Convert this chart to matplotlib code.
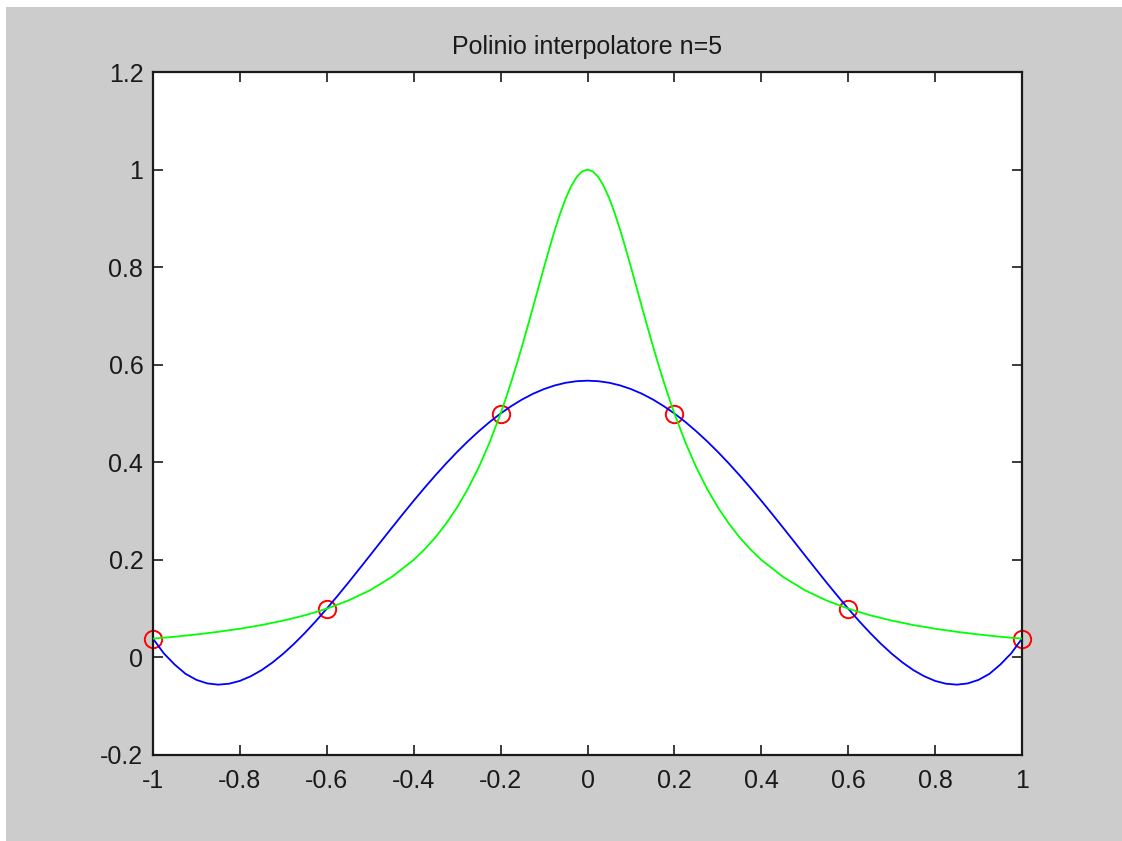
import numpy as np
import matplotlib
matplotlib.use("Agg")
import matplotlib.pyplot as plt
from matplotlib.patches import Rectangle

plt.rcParams['font.family'] = ['Liberation Sans', 'DejaVu Sans']

# interpolation nodes (n=5)
x_nodes = [-1.0, -0.6, -0.2, 0.2, 0.6, 1.0]
y_nodes = [0.0385, 0.1, 0.5, 0.5, 0.1, 0.0385]

# interpolating polynomial, sampled every 0.025
x_poly = [-1.0, -0.975, -0.95, -0.925, -0.9, -0.875, -0.85, -0.825, -0.8, -0.775,
          -0.75, -0.725, -0.7, -0.675, -0.65, -0.625, -0.6, -0.575, -0.55, -0.525,
          -0.5, -0.475, -0.45, -0.425, -0.4, -0.375, -0.35, -0.325, -0.3, -0.275,
          -0.25, -0.225, -0.2, -0.175, -0.15, -0.125, -0.1, -0.075, -0.05, -0.025,
          0.0,
          0.025, 0.05, 0.075, 0.1, 0.125, 0.15, 0.175, 0.2, 0.225, 0.25,
          0.275, 0.3, 0.325, 0.35, 0.375, 0.4, 0.425, 0.45, 0.475, 0.5,
          0.525, 0.55, 0.575, 0.6, 0.625, 0.65, 0.675, 0.7, 0.725, 0.75,
          0.775, 0.8, 0.825, 0.85, 0.875, 0.9, 0.925, 0.95, 0.975, 1.0]
y_poly = [0.0385, 0.0082, -0.0147, -0.0337, -0.0460, -0.0533, -0.0558, -0.0539, -0.0481, -0.0386,
          -0.0260, -0.0104, 0.0078, 0.0282, 0.0506, 0.0746, 0.1, 0.1265, 0.1537, 0.1816,
          0.2097, 0.2380, 0.2661, 0.2939, 0.3212, 0.3477, 0.3733, 0.3979, 0.4213, 0.4433,
          0.4638, 0.4828, 0.5, 0.5154, 0.5290, 0.5406, 0.5501, 0.5576, 0.5630, 0.5662,
          0.5673,
          0.5662, 0.5630, 0.5576, 0.5501, 0.5406, 0.5290, 0.5154, 0.5, 0.4828, 0.4638,
          0.4433, 0.4213, 0.3979, 0.3733, 0.3477, 0.3212, 0.2939, 0.2661, 0.2380, 0.2097,
          0.1816, 0.1537, 0.1265, 0.1, 0.0746, 0.0506, 0.0282, 0.0078, -0.0104, -0.0260,
          -0.0386, -0.0481, -0.0539, -0.0558, -0.0533, -0.0460, -0.0337, -0.0147, 0.0082, 0.0385]

# original function, denser sampling around the peak
x_func = [-1.0, -0.95, -0.9, -0.85, -0.8, -0.75, -0.7, -0.65, -0.6, -0.55,
          -0.5, -0.45, -0.4, -0.375, -0.35, -0.325, -0.3, -0.275, -0.25, -0.225,
          -0.2, -0.1875, -0.175, -0.1625, -0.15, -0.1375, -0.125, -0.1125, -0.1, -0.0875,
          -0.075, -0.0625, -0.05, -0.0375, -0.025, -0.0125,
          0.0,
          0.0125, 0.025, 0.0375, 0.05, 0.0625, 0.075, 0.0875, 0.1, 0.1125, 0.125,
          0.1375, 0.15, 0.1625, 0.175, 0.1875, 0.2, 0.225, 0.25, 0.275, 0.3,
          0.325, 0.35, 0.375, 0.4, 0.45, 0.5, 0.55, 0.6, 0.65, 0.7,
          0.75, 0.8, 0.85, 0.9, 0.95, 1.0]
y_func = [0.0385, 0.0424, 0.0471, 0.0525, 0.0588, 0.0664, 0.0755, 0.0865, 0.1, 0.1168,
          0.1379, 0.1652, 0.2, 0.2215, 0.2462, 0.2747, 0.3077, 0.3460, 0.3902, 0.4414,
          0.5, 0.5322, 0.5664, 0.6024, 0.64, 0.6791, 0.7191, 0.7596, 0.8, 0.8393,
          0.8767, 0.9110, 0.9412, 0.9660, 0.9846, 0.9961,
          1.0,
          0.9961, 0.9846, 0.9660, 0.9412, 0.9110, 0.8767, 0.8393, 0.8, 0.7596, 0.7191,
          0.6791, 0.64, 0.6024, 0.5664, 0.5322, 0.5, 0.4414, 0.3902, 0.3460, 0.3077,
          0.2747, 0.2462, 0.2215, 0.2, 0.1652, 0.1379, 0.1168, 0.1, 0.0865, 0.0755,
          0.0664, 0.0588, 0.0525, 0.0471, 0.0424, 0.0385]

x_ticks = [-1, -0.8, -0.6, -0.4, -0.2, 0, 0.2, 0.4, 0.6, 0.8, 1]
y_ticks = [-0.2, 0, 0.2, 0.4, 0.6, 0.8, 1, 1.2]

W, H = 1122, 841
fig = plt.figure(figsize=(W / 100, H / 100), dpi=100, facecolor="white")
fig.add_artist(Rectangle((6 / W, 0), 1, (H - 7) / H, transform=fig.transFigure,
                         facecolor="#cccccc", edgecolor="none", zorder=-10))

ax = fig.add_axes([153 / W, (H - 755) / H, (1022 - 153) / W, (755 - 72) / H])
ax.set_facecolor("white")

ax.plot(x_nodes, y_nodes, "o", ms=12.5, mfc="none", mec="#ff0000", mew=1.4,
        zorder=1, clip_on=False)
ax.plot(x_poly, y_poly, color="#0000ff", lw=1.3, zorder=2)
ax.plot(x_func, y_func, color="#00ff00", lw=1.3, zorder=3)

ax.set_xlim(-1, 1)
ax.set_ylim(-0.2, 1.2)
ax.set_xticks(x_ticks)
ax.set_xticklabels([f"{v:g}" for v in x_ticks])
ax.set_yticks(y_ticks)
ax.set_yticklabels([f"{v:g}" for v in y_ticks])
ax.tick_params(direction="in", length=7, width=1.2, top=True, right=True,
               labelsize=18, colors="#1a1a1a")
ax.tick_params(axis="x", pad=10)
ax.tick_params(axis="y", pad=7)
for s in ax.spines.values():
    s.set_linewidth(1.6)
    s.set_color("#1a1a1a")

ax.set_title("Polinio interpolatore n=5", fontsize=18, color="#1a1a1a", pad=13)

fig.savefig("out.png", dpi=100)
